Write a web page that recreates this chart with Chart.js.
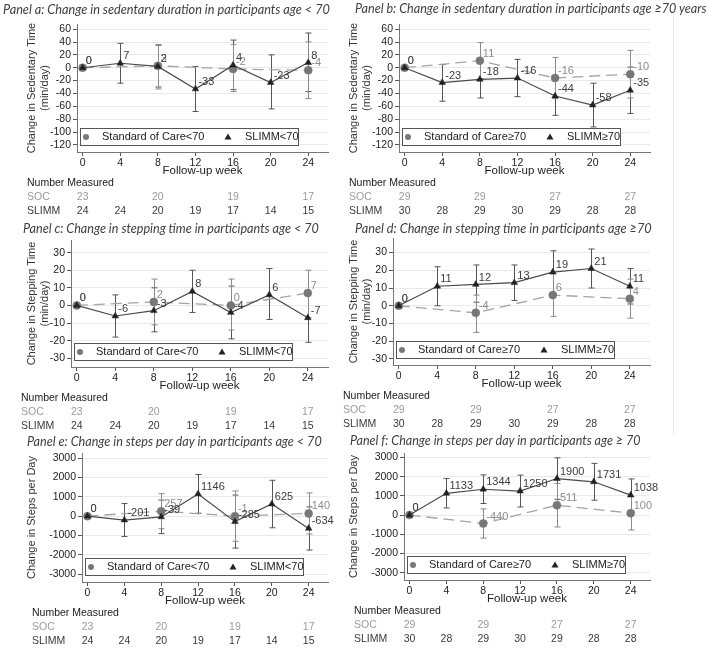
<!DOCTYPE html>
<html><head><meta charset="utf-8">
<script src="https://cdn.jsdelivr.net/npm/chart.js@4.4.1/dist/chart.umd.min.js"></script>
<style>
html,body{margin:0;padding:0;background:#fff;}
#wrap{position:relative;width:709px;height:650px;overflow:hidden;background:#fff;}
#wrap canvas{position:absolute;}
.ttl{position:absolute;white-space:nowrap;font-family:Lato,'Open Sans',sans-serif;font-style:italic;color:#404040;line-height:1;}
</style></head><body><div id="wrap"></div>
<script>
// ---------- data ----------
const weeks = [0, 4, 8, 12, 16, 20, 24];
const socWeeks = [0, 8, 16, 24];
const xTicks = [0, 4, 8, 12, 16, 20, 24];
const sedTicks = [60, 40, 20, 0, -20, -40, -60, -80, -100, -120];
const stepTimeTicks = [30, 20, 10, 0, -10, -20, -30];
const stepsTicks = [3000, 2000, 1000, 0, -1000, -2000, -3000];

// Panel a: sedentary, age < 70
const slimmA = [0, 7, 2, -33, 4, -23, 8];
const slimmALo = [0, -24, -30, -68, -34, -64, -37];
const slimmAHi = [0, 38, 35, 2, 43, 20, 54];
const socA = [0, 3, -2, -4];
const socALo = [0, -33, -37, -48];
const socAHi = [0, 36, 36, 40];

// Panel b: sedentary, age >= 70
const slimmB = [0, -23, -18, -16, -44, -58, -35];
const slimmBLo = [0, -52, -47, -45, -74, -92, -71];
const slimmBHi = [0, 5, 11, 13, -14, -24, 1];
const socB = [0, 11, -16, -10];
const socBLo = [0, -17, -48, -47];
const socBHi = [0, 39, 16, 27];

// Panel c: stepping time, age < 70
const slimmC = [0, -6, -3, 8, -4, 6, -7];
const slimmCLo = [0, -18, -15, -4, -19, -8, -21];
const slimmCHi = [0, 6, 10, 20, 11, 21, 7];
const socC = [0, 2, 0, 7];
const socCLo = [0, -11, -14, -7];
const socCHi = [0, 15, 15, 20];

// Panel d: stepping time, age >= 70
const slimmD = [0, 11, 12, 13, 19, 21, 11];
const slimmDLo = [0, 0, 2, 3, 7, 10, 1];
const slimmDHi = [0, 22, 23, 23, 31, 32, 21];
const socD = [0, -4, 6, 4];
const socDLo = [0, -15, -6, -7];
const socDHi = [0, 6, 18, 15];

// Panel e: steps per day, age < 70
const slimmE = [0, -201, -39, 1146, -285, 625, -634];
const slimmELo = [0, -1050, -900, 150, -1650, -600, -1750];
const slimmEHi = [0, 650, 830, 2150, 1090, 1850, 480];
const socE = [0, 257, -1, 140];
const socELo = [0, -650, -1300, -920];
const socEHi = [0, 1160, 1300, 1200];

// Panel f: steps per day, age >= 70
const slimmF = [0, 1133, 1344, 1250, 1900, 1731, 1038];
const slimmFLo = [0, 370, 600, 420, 820, 770, 200];
const slimmFHi = [0, 1900, 2090, 2080, 2980, 2690, 1880];
const socF = [0, -440, 511, 100];
const socFLo = [0, -1200, -620, -780];
const socFHi = [0, 320, 1640, 980];

// Number measured
const nSocLt70 = [23, 20, 19, 17];
const nSlimmLt70 = [24, 24, 20, 19, 17, 14, 15];
const nSocGe70 = [29, 29, 27, 27];
const nSlimmGe70 = [30, 28, 29, 30, 29, 28, 28];

const titles = [
  'Panel a: Change in sedentary duration in participants age < 70',
  'Panel b: Change in sedentary duration in participants age \u226570 years',
  'Panel c: Change in stepping time in participants age < 70',
  'Panel d: Change in stepping time in participants age \u226570',
  'Panel e: Change in steps per day in participants age < 70',
  'Panel f: Change in steps per day in participants age \u2265 70'
];
const yTitleSed = ['Change in Sedentary Time', '(min/day)'];
const yTitleStepTime = ['Change in Stepping Time', '(min/day)'];
const yTitleSteps = 'Change in Steps per Day';
const xTitle = 'Follow-up week';

// ---------- layout ----------
const FONT = "'Liberation Sans', Arial, sans-serif";
Chart.defaults.font.family = FONT;
const XH = 26;
const panels = [
  {cx:0, cy:0, cw:340, ch:220, l:77, t:24, r:328, b:152, yMin:-131, yMax:68, yTicks:sedTicks, yTitle:yTitleSed, ytx:32,
   slimm:slimmA, slimmLo:slimmALo, slimmHi:slimmAHi, soc:socA, socLo:socALo, socHi:socAHi, age:'<70', nSoc:nSocLt70, nSlimm:nSlimmLt70,
   title:titles[0], tx:3, tw:327, tcy:10},
  {cx:330, cy:0, cw:379, ch:220, l:399, t:24, r:650, b:152, yMin:-131, yMax:68, yTicks:sedTicks, yTitle:yTitleSed, ytx:354,
   slimm:slimmB, slimmLo:slimmBLo, slimmHi:slimmBHi, soc:socB, socLo:socBLo, socHi:socBHi, age:'\u226570', nSoc:nSocGe70, nSlimm:nSlimmGe70,
   title:titles[1], tx:355, tw:352, tcy:10},
  {cx:0, cy:215, cw:340, ch:220, l:71, t:240, r:328, b:367, yMin:-35, yMax:37.2, yTicks:stepTimeTicks, yTitle:yTitleStepTime, ytx:32,
   slimm:slimmC, slimmLo:slimmCLo, slimmHi:slimmCHi, soc:socC, socLo:socCLo, socHi:socCHi, age:'<70', nSoc:nSocLt70, nSlimm:nSlimmLt70,
   title:titles[2], tx:23, tw:296, tcy:230},
  {cx:330, cy:215, cw:379, ch:220, l:393, t:238, r:650, b:365, yMin:-33.4, yMax:38.2, yTicks:stepTimeTicks, yTitle:yTitleStepTime, ytx:354,
   slimm:slimmD, slimmLo:slimmDLo, slimmHi:slimmDHi, soc:socD, socLo:socDLo, socHi:socDHi, age:'\u226570', nSoc:nSocGe70, nSlimm:nSlimmGe70,
   title:titles[3], tx:355, tw:297, tcy:229},
  {cx:0, cy:430, cw:340, ch:220, l:82, t:453, r:328, b:582, yMin:-3400, yMax:3260, yTicks:stepsTicks, yTitle:yTitleSteps, ytx:32,
   slimm:slimmE, slimmLo:slimmELo, slimmHi:slimmEHi, soc:socE, socLo:socELo, socHi:socEHi, age:'<70', nSoc:nSocLt70, nSlimm:nSlimmLt70,
   title:titles[4], tx:27, tw:295, tcy:443},
  {cx:330, cy:430, cw:379, ch:220, l:404, t:453, r:650, b:580, yMin:-3380, yMax:3230, yTicks:stepsTicks, yTitle:yTitleSteps, ytx:354,
   slimm:slimmF, slimmLo:slimmFLo, slimmHi:slimmFHi, soc:socF, socLo:socFLo, socHi:socFHi, age:'\u226570', nSoc:nSocGe70, nSlimm:nSlimmGe70,
   title:titles[5], tx:350, tw:291, tcy:442}
];

// ---------- plugins ----------
const errorBars = {
  id:'errorBars',
  beforeDatasetsDraw(chart){
    const ctx = chart.ctx, ys = chart.scales.y;
    chart.data.datasets.forEach((ds, di) => {
      const meta = chart.getDatasetMeta(di);
      ctx.save();
      ctx.strokeStyle = ds.barColor; ctx.lineWidth = 1;
      meta.data.forEach((pt, i) => {
        const lo = ds.lo[i], hi = ds.hi[i];
        if (lo === hi) return;
        const x = Math.round(pt.x) + 0.5, y1 = ys.getPixelForValue(lo), y2 = ys.getPixelForValue(hi);
        ctx.beginPath();
        ctx.moveTo(x, y1); ctx.lineTo(x, y2);
        ctx.moveTo(x - 3, y1); ctx.lineTo(x + 3, y1);
        ctx.moveTo(x - 3, y2); ctx.lineTo(x + 3, y2);
        ctx.stroke();
      });
      ctx.restore();
    });
  }
};
const valueLabels = {
  id:'valueLabels',
  afterDatasetsDraw(chart){
    const ctx = chart.ctx;
    ctx.save();
    ctx.font = '11px ' + FONT;
    ctx.textAlign = 'left'; ctx.textBaseline = 'middle';
    for (let di = chart.data.datasets.length - 1; di >= 0; di--) {
      const ds = chart.data.datasets[di], meta = chart.getDatasetMeta(di);
      ctx.fillStyle = ds.labelColor;
      meta.data.forEach((pt, i) => ctx.fillText(String(ds.data[i].y), pt.x + 3, pt.y - 7));
    }
    ctx.restore();
  }
};
const boxLegend = {
  id:'boxLegend',
  afterDatasetsDraw(chart){
    const ctx = chart.ctx, a = chart.chartArea;
    const w = 218, h = 17, x0 = a.left + 3, y0 = a.bottom - 7 - h;
    ctx.save();
    ctx.fillStyle = '#fff'; ctx.fillRect(x0, y0, w, h);
    ctx.strokeStyle = '#555'; ctx.lineWidth = 1; ctx.strokeRect(x0 + 0.5, y0 + 0.5, w, h);
    const cyl = y0 + h / 2 + 0.5;
    const soc = chart.data.datasets[1], sl = chart.data.datasets[0];
    ctx.fillStyle = soc.pointBackgroundColor;
    ctx.beginPath(); ctx.arc(x0 + 6, cyl, 3, 0, Math.PI * 2); ctx.fill();
    ctx.fillStyle = sl.pointBackgroundColor;
    const tx = x0 + 148;
    ctx.beginPath(); ctx.moveTo(tx, cyl - 3.5); ctx.lineTo(tx + 3.5, cyl + 2.5); ctx.lineTo(tx - 3.5, cyl + 2.5); ctx.closePath(); ctx.fill();
    ctx.fillStyle = '#222'; ctx.font = '11px ' + FONT; ctx.textBaseline = 'middle';
    ctx.fillText(soc.label, x0 + 22, cyl);
    ctx.fillText(sl.label, x0 + 165, cyl);
    ctx.restore();
  }
};
const numberTable = {
  id:'numberTable',
  afterDraw(chart){
    const ctx = chart.ctx, a = chart.chartArea, xs = chart.scales.x, o = chart.options.plugins.numberTable;
    const lx = a.left - 50;
    ctx.save();
    ctx.textBaseline = 'middle';
    ctx.font = '10.5px ' + FONT;
    ctx.fillStyle = '#1a1a1a'; ctx.textAlign = 'left';
    ctx.fillText('Number Measured', lx, a.bottom + 31);
    ctx.fillStyle = '#9a9a9a';
    ctx.fillText('SOC', lx, a.bottom + 45);
    ctx.textAlign = 'center';
    o.nSoc.forEach((n, i) => ctx.fillText(String(n), xs.getPixelForValue(socWeeks[i]), a.bottom + 45));
    ctx.fillStyle = '#3a3a3a'; ctx.textAlign = 'left';
    ctx.fillText('SLIMM', lx, a.bottom + 59);
    ctx.textAlign = 'center';
    o.nSlimm.forEach((n, i) => ctx.fillText(String(n), xs.getPixelForValue(weeks[i]), a.bottom + 59));
    ctx.restore();
  }
};

// ---------- build ----------
const wrap = document.getElementById('wrap');
panels.forEach(p => {
  const cv = document.createElement('canvas');
  cv.width = p.cw; cv.height = p.ch;
  cv.style.left = p.cx + 'px'; cv.style.top = p.cy + 'px';
  cv.style.width = p.cw + 'px'; cv.style.height = p.ch + 'px';
  wrap.appendChild(cv);
  const yTitleLH = 11 * 1.2;
  new Chart(cv, {
    type:'line',
    data:{datasets:[
      {label:'SLIMM' + p.age, data:weeks.map((w, i) => ({x:w, y:p.slimm[i]})), lo:p.slimmLo, hi:p.slimmHi,
       borderColor:'#4a4a4a', borderWidth:1.2, pointStyle:'triangle', pointRadius:3.8,
       pointBackgroundColor:'#222', pointBorderColor:'#222', pointBorderWidth:0.5,
       labelColor:'#3c3c3c', barColor:'#555', fill:false, tension:0},
      {label:'Standard of Care' + p.age, data:socWeeks.map((w, i) => ({x:w, y:p.soc[i]})), lo:p.socLo, hi:p.socHi,
       borderColor:'#a4a4a4', borderWidth:1.3, borderDash:[11, 6], pointStyle:'circle', pointRadius:4,
       pointBackgroundColor:'#777', pointBorderColor:'#777', pointBorderWidth:0.5,
       labelColor:'#8c8c8c', barColor:'#8a8a8a', fill:false, tension:0}
    ]},
    options:{
      responsive:false, animation:false, devicePixelRatio:1,
      layout:{padding:{left:0, top:p.t - p.cy, right:p.cx + p.cw - p.r, bottom:p.cy + p.ch - p.b - XH}},
      plugins:{legend:{display:false}, tooltip:{enabled:false}, numberTable:{nSoc:p.nSoc, nSlimm:p.nSlimm}},
      scales:{
        x:{type:'linear', min:-0.6, max:26.1,
           afterBuildTicks:s => { s.ticks = xTicks.map(v => ({value:v})); },
           afterFit:s => { s.height = XH; },
           grid:{drawOnChartArea:false, tickLength:4, tickColor:'#555'},
           border:{color:'#777'},
           ticks:{padding:1, color:'#222', font:{size:10.5}, maxRotation:0, autoSkip:false, callback:v => String(v)},
           title:{display:true, text:xTitle, padding:0, color:'#222', font:{size:11.5}}},
        y:{type:'linear', min:p.yMin, max:p.yMax,
           afterBuildTicks:s => { s.ticks = p.yTicks.map(v => ({value:v})); },
           afterFit:s => { s.width = p.l - p.cx; },
           grid:{color:'#e9e9e9', tickLength:4, tickColor:'#555'},
           border:{color:'#777'},
           ticks:{padding:2, color:'#222', font:{size:10.5}, autoSkip:false, callback:v => String(v)},
           title:{display:true, text:p.yTitle, padding:{top:p.ytx - p.cx - yTitleLH / 2, bottom:0}, color:'#333', font:{size:11}}}
      }
    },
    plugins:[errorBars, valueLabels, boxLegend, numberTable]
  });
  const t = document.createElement('div');
  t.className = 'ttl'; t.textContent = p.title;
  t.style.fontSize = '12px';
  wrap.appendChild(t);
  const w0 = t.getBoundingClientRect().width;
  const fs = 12 * p.tw / w0;
  t.style.fontSize = fs + 'px';
  t.style.left = p.tx + 'px';
  t.style.top = (p.tcy - fs * 0.55) + 'px';
});
const vl = document.createElement('div');
vl.style.cssText = 'position:absolute;left:673px;top:15px;width:1px;height:420px;background:#ececec;';
wrap.appendChild(vl);
</script>
</body></html>
